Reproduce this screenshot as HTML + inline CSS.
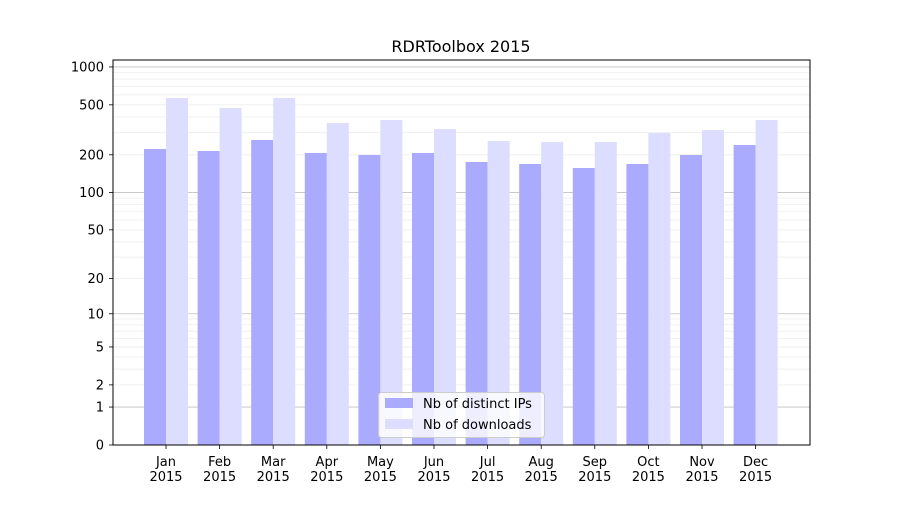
<!DOCTYPE html>
<html><head><meta charset="utf-8"><style>
body{margin:0;background:#fff;}
svg text{font-family:"DejaVu Sans","Liberation Sans",sans-serif;fill:#000;}
</style></head><body>
<svg id="s" width="900" height="500" xmlns="http://www.w3.org/2000/svg"></svg>
<script>
const s=document.getElementById('s');
let h='';
const Y=v=>445-126*Math.log10(1+v);
for(let k=0;k<3;k++)for(let m=2;m<10;m++){const v=m*Math.pow(10,k);const y=Y(v);h+=`<line x1="113" x2="810" y1="${y}" y2="${y}" stroke="#eeeeee" stroke-width="0.8"/>`;}
[1,10,100,1000].forEach(v=>{const y=Y(v);h+=`<line x1="113" x2="810" y1="${y}" y2="${y}" stroke="#c0c0c0" stroke-width="0.8"/>`;});
const ip=[149,151,140,153,155,153,162,164,168,164,155,145];
const dl=[98,108,98,123,120,129,141,142,142,133,130,120];
const mon=['Jan','Feb','Mar','Apr','May','Jun','Jul','Aug','Sep','Oct','Nov','Dec'];
for(let i=0;i<12;i++){const c=166+i*53.6;
h+=`<rect x="${c-22}" y="${ip[i]}" width="22" height="${445-ip[i]}" fill="#aaaaff"/>`;
h+=`<rect x="${c}" y="${dl[i]}" width="22" height="${445-dl[i]}" fill="#ddddff"/>`;
h+=`<line x1="${c}" x2="${c}" y1="445" y2="449" stroke="#000" stroke-width="0.8"/>`;
h+=`<text x="${c}" y="466" font-size="13" text-anchor="middle">${mon[i]}</text><text x="${c}" y="481" font-size="13" text-anchor="middle">2015</text>`;}
[0,1,2,5,10,20,50,100,200,500,1000].forEach(v=>{const y=Y(v);
h+=`<line x1="109" x2="113" y1="${y}" y2="${y}" stroke="#000" stroke-width="0.8"/><text x="104" y="${y+4.5}" font-size="13" text-anchor="end">${v}</text>`;});
h+=`<rect x="113" y="60" width="697" height="385" fill="none" stroke="#000" stroke-width="1"/>`;
h+=`<text x="461" y="52" font-size="16" text-anchor="middle">RDRToolbox 2015</text>`;
h+=`<rect x="378.5" y="392.5" width="166" height="45" rx="3" fill="#fff" fill-opacity="0.8" stroke="#ccc"/>`;
h+=`<rect x="385" y="398" width="28" height="10" fill="#aaaaff"/><text x="423" y="408" font-size="13">Nb of distinct IPs</text>`;
h+=`<rect x="385" y="419" width="28" height="10" fill="#ddddff"/><text x="423" y="429" font-size="13">Nb of downloads</text>`;
s.innerHTML=h;
</script>
</body></html>
